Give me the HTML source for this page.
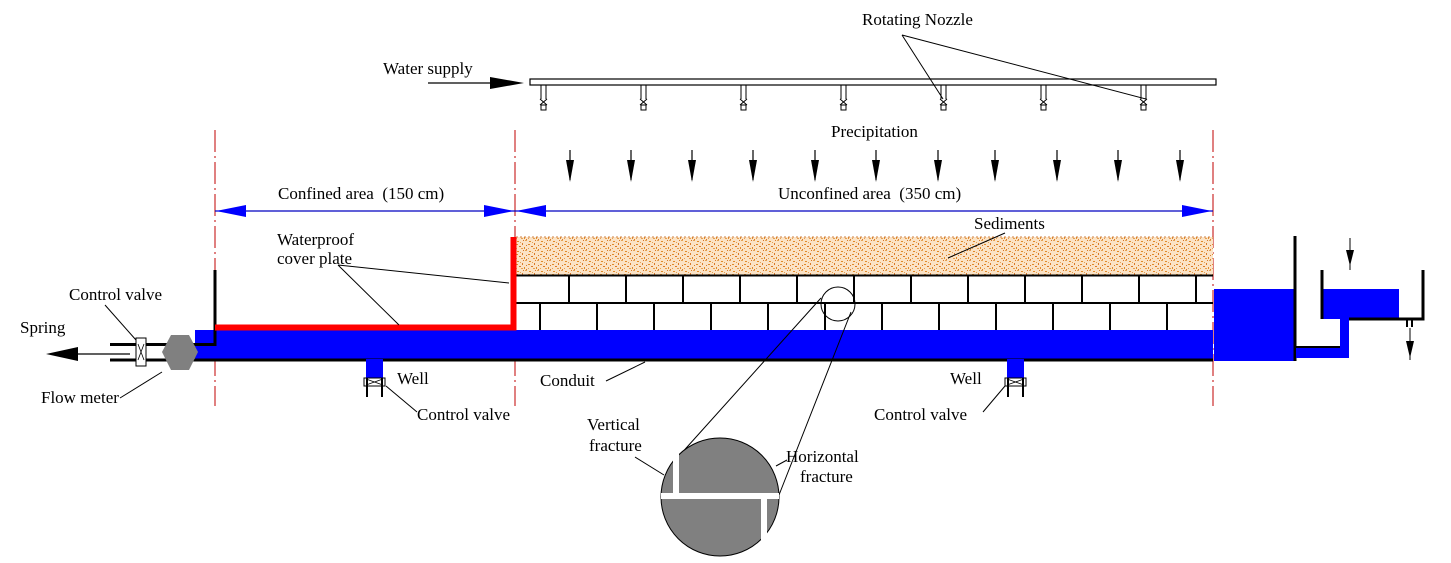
<!DOCTYPE html>
<html><head><meta charset="utf-8"><style>
html,body{margin:0;padding:0;background:#fff}
svg{display:block}
text{font-family:"Liberation Serif",serif;font-size:17px;fill:#000;white-space:pre}
</style></head><body>
<svg width="1451" height="563" viewBox="0 0 1451 563" xmlns="http://www.w3.org/2000/svg">
<defs>
<pattern id="sed" width="12" height="10" patternUnits="userSpaceOnUse">
<rect width="12" height="10" fill="#fbe3c6"/>
<rect x="1" y="1" width="2" height="1" fill="#e08a2a"/>
<rect x="6" y="3" width="1" height="2" fill="#d9782a"/>
<rect x="9" y="0" width="2" height="1" fill="#e5a050"/>
<rect x="3" y="6" width="2" height="1" fill="#d9782a"/>
<rect x="8" y="7" width="1" height="2" fill="#e08a2a"/>
<rect x="0" y="8" width="1" height="1" fill="#e5a050"/>
<rect x="10" y="5" width="1" height="1" fill="#d9782a"/>
<rect x="4" y="2" width="1" height="1" fill="#e5a050"/>
<rect x="0" y="4" width="2" height="1" fill="#e08a2a"/>
<rect x="5" y="8" width="2" height="1" fill="#e5a050"/>
<rect x="10" y="9" width="1" height="1" fill="#d9782a"/>
<rect x="7" y="0" width="1" height="1" fill="#d9782a"/>
</pattern>
</defs>

<!-- sprinkler pipe -->
<rect x="530" y="79" width="686" height="6" fill="#fff" stroke="#000" stroke-width="1.2"/>
<g stroke="#000" stroke-width="1" fill="#fff">
<g id="nz"><path d="M541,85 V99 M546,85 V99"/><path d="M540,99 L547,105 M547,99 L540,105"/><rect x="541" y="105" width="5" height="5"/></g>
<use href="#nz" x="100"/><use href="#nz" x="200"/><use href="#nz" x="300"/><use href="#nz" x="400"/><use href="#nz" x="500"/><use href="#nz" x="600"/>
</g>
<text x="383" y="74">Water supply</text>
<line x1="428" y1="83" x2="495" y2="83" stroke="#000" stroke-width="1.3"/>
<polygon points="490,77 524,83 490,89" fill="#000"/>
<text x="862" y="25">Rotating Nozzle</text>
<path d="M902,35 L943,99 M902,35 L1146,99" stroke="#000" fill="none" stroke-width="1"/>
<text x="831" y="137">Precipitation</text>
<g stroke="#000" stroke-width="1.2">
<path d="M570,150V180 M631,150V180 M692,150V180 M753,150V180 M815,150V180 M876,150V180 M938,150V180 M995,150V180 M1057,150V180 M1118,150V180 M1180,150V180"/>
</g>
<g fill="#000">
<polygon points="566,160 574,160 570,182"/><polygon points="627,160 635,160 631,182"/><polygon points="688,160 696,160 692,182"/><polygon points="749,160 757,160 753,182"/><polygon points="811,160 819,160 815,182"/><polygon points="872,160 880,160 876,182"/><polygon points="934,160 942,160 938,182"/><polygon points="991,160 999,160 995,182"/><polygon points="1053,160 1061,160 1057,182"/><polygon points="1114,160 1122,160 1118,182"/><polygon points="1176,160 1184,160 1180,182"/>
</g>

<!-- dashed red center lines -->
<g stroke="#c00000" stroke-width="1" stroke-dasharray="22,4,2,4">
<line x1="215" y1="130" x2="215" y2="406"/><line x1="515" y1="130" x2="515" y2="406"/><line x1="1213" y1="130" x2="1213" y2="406"/>
</g>
<!-- dimension -->
<line x1="215" y1="211" x2="1213" y2="211" stroke="#0000c0" stroke-width="1.2"/>
<g fill="#0000ff">
<polygon points="216,211 246,205 246,217"/><polygon points="514,211 484,205 484,217"/>
<polygon points="516,211 546,205 546,217"/><polygon points="1212,211 1182,205 1182,217"/>
</g>
<text x="278" y="199">Confined area  (150 cm)</text>
<text x="778" y="199">Unconfined area  (350 cm)</text>

<!-- sediments -->
<rect x="516" y="237" width="697" height="38" fill="url(#sed)"/>
<line x1="516" y1="237" x2="1213" y2="237" stroke="#d08040" stroke-dasharray="2,2"/>
<text x="974" y="229">Sediments</text>
<line x1="1005" y1="233" x2="948" y2="258" stroke="#000"/>

<!-- bricks -->
<g stroke="#000" stroke-width="2" fill="none">
<line x1="516" y1="275.5" x2="1213" y2="275.5"/>
<line x1="516" y1="303" x2="1213" y2="303"/>
<path d="M569,276V302 M626,276V302 M683,276V302 M740,276V302 M797,276V302 M854,276V302 M911,276V302 M968,276V302 M1025,276V302 M1082,276V302 M1139,276V302 M1196,276V302"/>
<path d="M540,303V330 M597,303V330 M654,303V330 M711,303V330 M768,303V330 M825,303V330 M882,303V330 M939,303V330 M996,303V330 M1053,303V330 M1110,303V330 M1167,303V330"/>
</g>

<!-- conduit -->
<rect x="195" y="330" width="1018" height="29" fill="#0000ff"/>
<line x1="195" y1="360" x2="1213" y2="360" stroke="#000" stroke-width="3"/>
<line x1="110" y1="344.5" x2="215" y2="344.5" stroke="#000" stroke-width="3"/>
<line x1="110" y1="360" x2="200" y2="360" stroke="#000" stroke-width="3"/>
<line x1="215" y1="270" x2="215" y2="346" stroke="#000" stroke-width="3"/>
<!-- red plate -->
<path d="M215,327.5 H513.5 V237" stroke="#ff0000" stroke-width="6" fill="none"/>
<text x="277" y="245">Waterproof</text>
<text x="277" y="264">cover plate</text>
<path d="M338,265 L509,283 M338,265 L399,325" stroke="#000" fill="none"/>
<!-- hexagon flow meter -->
<polygon points="162,352 171,335 189,335 198,352 189,370 171,370" fill="#808080"/>
<!-- valve left -->
<rect x="136" y="338" width="10" height="28" fill="#fff" stroke="#000"/>
<path d="M138,344 L144,360 M144,344 L138,360" stroke="#000" stroke-width="0.8"/>
<line x1="75" y1="354" x2="130" y2="354" stroke="#000" stroke-width="1.2"/>
<polygon points="46,354 78,347 78,361" fill="#000"/>
<text x="20" y="333">Spring</text>
<text x="69" y="300">Control valve</text>
<line x1="105" y1="305" x2="136" y2="340" stroke="#000"/>
<text x="41" y="403">Flow meter</text>
<line x1="120" y1="398" x2="162" y2="372" stroke="#000"/>

<!-- wells -->
<rect x="366" y="359" width="17" height="20" fill="#0000ff"/>
<rect x="364" y="378" width="21" height="8" fill="#fff" stroke="#000"/>
<path d="M366,379 L383,385 M383,379 L366,385" stroke="#000" stroke-width="0.8"/>
<path d="M367,378V397 M382,378V397" stroke="#000" stroke-width="2"/>
<text x="397" y="384">Well</text>
<text x="417" y="420">Control valve</text>
<line x1="386" y1="386" x2="417" y2="412" stroke="#000"/>
<rect x="1007" y="359" width="17" height="20" fill="#0000ff"/>
<rect x="1005" y="378" width="21" height="8" fill="#fff" stroke="#000"/>
<path d="M1007,379 L1024,385 M1024,379 L1007,385" stroke="#000" stroke-width="0.8"/>
<path d="M1008,378V397 M1023,378V397" stroke="#000" stroke-width="2"/>
<text x="950" y="384">Well</text>
<text x="874" y="420">Control valve</text>
<line x1="983" y1="412" x2="1005" y2="386" stroke="#000"/>
<text x="540" y="386">Conduit</text>
<line x1="606" y1="381" x2="645" y2="362" stroke="#000"/>

<!-- right tanks -->
<rect x="1214" y="289" width="81" height="72" fill="#0000ff"/>
<line x1="1295" y1="236" x2="1295" y2="361" stroke="#000" stroke-width="3"/>
<rect x="1296" y="348" width="53" height="10" fill="#0000ff"/>
<rect x="1340" y="319" width="9" height="39" fill="#0000ff"/>
<line x1="1296" y1="347" x2="1340" y2="347" stroke="#000" stroke-width="2"/>
<rect x="1322" y="289" width="77" height="30" fill="#0000ff"/>
<path d="M1322,270 V319 M1423,270 V319 H1349" stroke="#000" stroke-width="3" fill="none"/>
<path d="M1407,319V327 M1412,319V327" stroke="#000" stroke-width="2"/>
<line x1="1410" y1="328" x2="1410" y2="360" stroke="#000"/>
<polygon points="1406,341 1414,341 1410,358" fill="#000"/>
<line x1="1350" y1="238" x2="1350" y2="270" stroke="#000"/>
<polygon points="1346,250 1354,250 1350,266" fill="#000"/>

<!-- magnifier -->
<circle cx="838" cy="304" r="17" fill="none" stroke="#000"/>
<line x1="825" y1="303" x2="825" y2="330" stroke="#000"/>
<path d="M821,298 L679,456 M851,312 L779,495" stroke="#000" fill="none"/>
<circle cx="720" cy="497" r="59" fill="#808080" stroke="#000"/>
<g fill="#fff">
<rect x="673" y="452" width="6" height="44"/>
<rect x="661" y="493" width="118" height="6"/>
<rect x="761" y="496" width="6" height="44"/>
</g>
<text x="587" y="430">Vertical</text>
<text x="589" y="451">fracture</text>
<line x1="635" y1="457" x2="664" y2="475" stroke="#000"/>
<text x="786" y="462">Horizontal</text>
<text x="800" y="482">fracture</text>
<line x1="776" y1="466" x2="787" y2="460" stroke="#000"/>
</svg>
</body></html>
